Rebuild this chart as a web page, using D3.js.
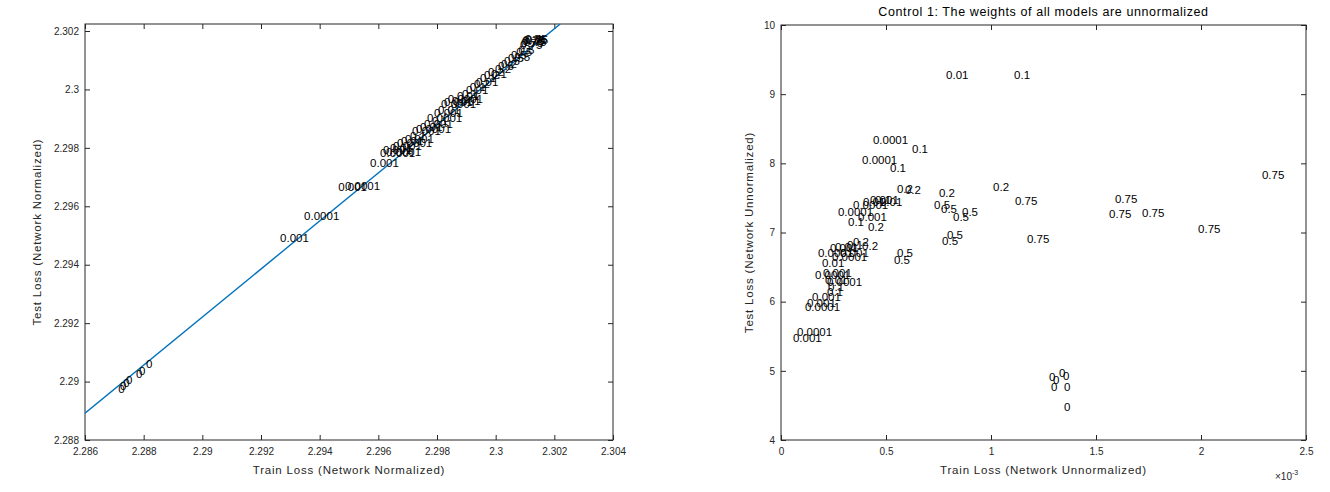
<!DOCTYPE html>
<html>
<head>
<meta charset="utf-8">
<script src="https://cdn.jsdelivr.net/npm/d3@7"></script>
<style>
    body { margin: 0; background: #fff; }
    text { font-family: "Liberation Sans", Arial, Helvetica, sans-serif; }
</style>
</head>
<body>
<svg id="chart" width="1330" height="492"></svg>
<script>
// left panel: network normalized
var normLabels = ["0", "0", "0", "0", "0", "0", "0",
    "0.001", "0.0001", "0.001", "0.0001", "0.001",
    "0.0001", "0.001", "0.0001", "0.01", "0.001", "0.0001", "0.01", "0.001", "0.1", "0.001",
    "0.0001", "0.01", "0.001", "0.0001", "0.1", "0.001", "0.01", "0.0001", "0.001", "0.0001",
    "0.001", "0.01", "0.1", "0.01", "0.1", "0.2", "0.01", "0.1", "0.2", "0.2",
    "0.1", "0.2", "0.5", "0.2", "0.5", "0.5", "0.5", "0.5", "0.5", "0.5",
    "0.75", "0.75", "0.75", "0.75", "0.75", "0.75", "0.75"];
var normTrain = [2.28713, 2.28719, 2.28730, 2.28740, 2.28774, 2.28784, 2.28808,
    2.29265, 2.29347, 2.29463, 2.29486, 2.29572,
    2.29606, 2.29616, 2.29626, 2.29640, 2.29650, 2.29664, 2.29677, 2.29691, 2.29708, 2.29715,
    2.29728, 2.29742, 2.29756, 2.29766, 2.29783, 2.29790, 2.29803, 2.29814, 2.29824, 2.29837,
    2.29851, 2.29868, 2.29885, 2.29899, 2.29912, 2.29926, 2.29933, 2.29947, 2.29960, 2.29974,
    2.29984, 2.29998, 2.30008, 2.30018, 2.30028, 2.30042, 2.30052, 2.30063, 2.30070, 2.30078,
    2.30083, 2.30086, 2.30090, 2.30093, 2.30097, 2.30100, 2.30103];
var normTest = [2.28975, 2.28985, 2.28995, 2.29005, 2.29026, 2.29036, 2.29060,
    2.29492, 2.29567, 2.29666, 2.29670, 2.29749,
    2.29783, 2.29793, 2.29786, 2.29800, 2.29807, 2.29817, 2.29824, 2.29831, 2.29841, 2.29858,
    2.29865, 2.29872, 2.29882, 2.29903, 2.29892, 2.29920, 2.29930, 2.29951, 2.29958, 2.29968,
    2.29961, 2.29978, 2.29985, 2.29999, 2.30009, 2.30019, 2.30026, 2.30040, 2.30050, 2.30060,
    2.30053, 2.30071, 2.30081, 2.30088, 2.30098, 2.30108, 2.30119, 2.30112, 2.30129, 2.30136,
    2.30153, 2.30160, 2.30166, 2.30170, 2.30163, 2.30173, 2.30170];
// fitted line end points
var fitTrain = [2.286, 2.3022];
var fitTest = [2.28892, 2.30224];
var normXTicks = [2.286, 2.288, 2.29, 2.292, 2.294, 2.296, 2.298, 2.3, 2.302, 2.304];
var normYTicks = [2.288, 2.29, 2.292, 2.294, 2.296, 2.298, 2.3, 2.302];

// right panel: network unnormalized (train loss in units of 1e-3)
var rawLabels = ["0.01", "0.1", "0.0001", "0.1", "0.0001", "0.1",
    "0.2", "0.2", "0.2", "0.2",
    "0.5", "0.5", "0.5", "0.5", "0.5", "0.5", "0.5", "0.5",
    "0.75", "0.75", "0.75", "0.75", "0.75", "0.75", "0.75",
    "0.0001", "0.0001", "0.01", "0.001", "0.1", "0.01", "0.001", "0.1", "0.2",
    "0.0001", "0.001", "0.01", "0.1", "0.2", "0.2", "0.01", "0.0001", "0.001",
    "0.0001", "0.001", "0.01", "0.0001", "0.1", "0.1", "0.001", "0.001", "0.0001",
    "0.0001", "0.001",
    "0", "0", "0", "0", "0", "0", "0"];
var rawTrain = [0.786, 1.110, 0.438, 0.624, 0.386, 0.519,
    0.552, 0.590, 0.752, 1.010,
    0.729, 0.762, 0.819, 0.862, 0.790, 0.767, 0.552, 0.538,
    1.114, 1.171, 1.590, 1.562, 1.719, 1.986, 2.290,
    0.271, 0.343, 0.390, 0.424, 0.448, 0.471, 0.367, 0.319, 0.414,
    0.176, 0.233, 0.257, 0.314, 0.343, 0.386, 0.195, 0.243, 0.281,
    0.162, 0.200, 0.210, 0.219, 0.224, 0.219, 0.148, 0.124, 0.114,
    0.076, 0.057,
    1.276, 1.295, 1.324, 1.343, 1.286, 1.348, 1.348];
var rawTest = [9.28, 9.28, 8.337, 8.207, 8.048, 7.932,
    7.629, 7.614, 7.571, 7.658,
    7.397, 7.340, 7.224, 7.296, 6.964, 6.877, 6.703, 6.602,
    7.455, 6.906, 7.484, 7.267, 7.282, 7.050, 7.831,
    7.296, 7.397, 7.441, 7.470, 7.470, 7.441, 7.224, 7.152, 7.079,
    6.703, 6.776, 6.790, 6.819, 6.863, 6.805, 6.559, 6.646, 6.703,
    6.385, 6.414, 6.313, 6.284, 6.212, 6.140, 6.067, 5.981, 5.923,
    5.561, 5.475,
    4.911, 4.867, 4.969, 4.925, 4.766, 4.766, 4.477];
var rawXTicks = [0, 0.5, 1, 1.5, 2, 2.5];
var rawYTicks = [4, 5, 6, 7, 8, 9, 10];

var svg = d3.select("#chart");
var axisColor = "#262626";

function drawPanel(opt) {
    var x = d3.scaleLinear().domain(opt.xDomain).range([opt.left, opt.right]);
    var y = d3.scaleLinear().domain(opt.yDomain).range([opt.bottom, opt.top]);
    var g = svg.append("g");

    var axes = [
        [d3.axisBottom(x).tickValues(opt.xTicks).tickFormat(d3.format("~g")).tickPadding(8), opt.bottom, 0],
        [d3.axisTop(x).tickValues(opt.xTicks).tickFormat(""), opt.top, 0],
        [d3.axisLeft(y).tickValues(opt.yTicks).tickFormat(d3.format("~g")).tickPadding(6), 0, opt.left],
        [d3.axisRight(y).tickValues(opt.yTicks).tickFormat(""), 0, opt.right]
    ];
    axes.forEach(a => {
        var ax = g.append("g")
            .attr("transform", "translate(" + a[2] + "," + a[1] + ")")
            .call(a[0].tickSizeInner(-5).tickSizeOuter(0));
        ax.select(".domain").remove();
        ax.selectAll("line").attr("stroke", axisColor);
        ax.selectAll("text")
            .attr("fill", axisColor)
            .style("font-size", "10px")
            .style("font-family", "'Liberation Sans', Arial, sans-serif");
    });

    g.append("rect")
        .attr("x", opt.left).attr("y", opt.top)
        .attr("width", opt.right - opt.left).attr("height", opt.bottom - opt.top)
        .attr("fill", "none").attr("stroke", axisColor).attr("stroke-width", 1);

    if (opt.fit) {
        var clipId = "clip" + opt.left;
        svg.append("clipPath").attr("id", clipId)
            .append("rect")
            .attr("x", opt.left).attr("y", opt.top)
            .attr("width", opt.right - opt.left).attr("height", opt.bottom - opt.top);
        var line = d3.line().x(d => x(d[0])).y(d => y(d[1]));
        g.append("path")
            .datum(d3.zip(opt.fit[0], opt.fit[1]))
            .attr("clip-path", "url(#" + clipId + ")")
            .attr("d", line)
            .attr("fill", "none")
            .attr("stroke", "#0072BD")
            .attr("stroke-width", 1.4);
    }

    g.selectAll(".lbl")
        .data(d3.range(opt.labels.length))
        .enter()
        .append("text")
        .attr("class", "lbl")
        .attr("x", i => x(opt.xs[i]))
        .attr("y", i => y(opt.ys[i]))
        .attr("dy", "0.35em")
        .attr("font-size", "11.5px")
        .attr("fill", "#000")
        .text(i => opt.labels[i]);

    var cx = (opt.left + opt.right) / 2;
    g.append("text")
        .attr("x", cx).attr("y", 474)
        .attr("text-anchor", "middle")
        .attr("font-size", "11.5px")
        .attr("letter-spacing", "0.8px")
        .attr("fill", axisColor)
        .text(opt.xLabel);
    g.append("text")
        .attr("transform", "translate(" + opt.yLabelX + "," + (opt.top + opt.bottom) / 2 + ") rotate(-90)")
        .attr("text-anchor", "middle")
        .attr("font-size", "11.5px")
        .attr("letter-spacing", "0.8px")
        .attr("fill", axisColor)
        .text(opt.yLabel);

    if (opt.title) {
        g.append("text")
            .attr("x", cx).attr("y", 16)
            .attr("text-anchor", "middle")
            .attr("font-size", "12.5px")
            .attr("letter-spacing", "0.6px")
            .attr("fill", "#000")
            .text(opt.title);
    }
    return g;
}

drawPanel({
    left: 85, right: 613, top: 24, bottom: 440,
    xDomain: [2.286, 2.304], yDomain: [2.288, 2.30224],
    xTicks: normXTicks, yTicks: normYTicks,
    labels: normLabels, xs: normTrain, ys: normTest,
    fit: [fitTrain, fitTest],
    xLabel: "Train Loss (Network Normalized)",
    yLabel: "Test Loss (Network Normalized)",
    yLabelX: 41
});

var right = drawPanel({
    left: 781, right: 1306, top: 25, bottom: 440,
    xDomain: [0, 2.5], yDomain: [4, 10],
    xTicks: rawXTicks, yTicks: rawYTicks,
    labels: rawLabels, xs: rawTrain, ys: rawTest,
    xLabel: "Train Loss (Network Unnormalized)",
    yLabel: "Test Loss (Network Unnormalized)",
    yLabelX: 753,
    title: "Control 1: The weights of all models are unnormalized"
});

// exponent marker under the x axis
var expo = right.append("text")
    .attr("x", 1275).attr("y", 480)
    .attr("font-size", "10px")
    .attr("fill", axisColor);
expo.append("tspan").text("\u00d710");
expo.append("tspan").attr("dy", "-5").attr("font-size", "7px").text("-3");
</script>
</body>
</html>
